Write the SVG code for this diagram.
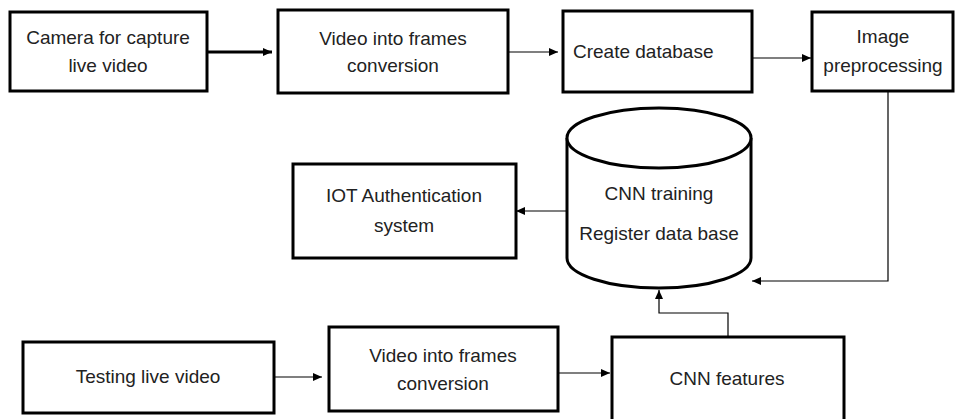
<svg xmlns="http://www.w3.org/2000/svg" width="956" height="419" viewBox="0 0 956 419">
<defs>
<style>
.box{fill:#fff;stroke:#000;stroke-width:3}
.t{font-family:"Liberation Sans",Arial,sans-serif;font-size:19px;fill:#222;text-anchor:middle}
.c{fill:none;stroke:#000;stroke-width:1.2}
</style>
<marker id="ah" markerWidth="10" markerHeight="8" refX="9" refY="4" orient="auto" markerUnits="userSpaceOnUse">
<path d="M0,0 L9,4 L0,8 z" fill="#000"/>
</marker>
</defs>
<rect width="956" height="419" fill="#fff"/>
<g id="camera"><rect class="box" x="10" y="12" width="197" height="79"/><text class="t" x="108" y="44">Camera for capture</text><text class="t" x="108" y="72">live video</text></g>
<g id="frames1"><rect class="box" x="278" y="10" width="230" height="83"/><text class="t" x="393" y="45">Video into frames</text><text class="t" x="393" y="72">conversion</text></g>
<g id="createdb"><rect class="box" x="563" y="11" width="189" height="81"/><text class="t" x="573" y="58" style="text-anchor:start">Create database</text></g>
<g id="preproc"><rect class="box" x="812" y="12" width="141" height="79"/><text class="t" x="883" y="43">Image</text><text class="t" x="883" y="72">preprocessing</text></g>
<g id="cnntrain"><path class="box" d="M567,138 L567,258 A92,30 0 0 0 751,258 L751,138"/><ellipse class="box" cx="659" cy="138" rx="92" ry="30"/><text class="t" x="659" y="200">CNN training</text><text class="t" x="659" y="240">Register data base</text></g>
<g id="iot"><rect class="box" x="293" y="164" width="223" height="94"/><text class="t" x="404" y="202">IOT Authentication</text><text class="t" x="404" y="232">system</text></g>
<g id="testing"><rect class="box" x="23" y="342" width="251" height="71"/><text class="t" x="148" y="383">Testing live video</text></g>
<g id="frames2"><rect class="box" x="329" y="327" width="229" height="84"/><text class="t" x="443" y="362">Video into frames</text><text class="t" x="443" y="390">conversion</text></g>
<g id="cnnfeat"><rect class="box" x="612" y="337" width="232" height="90"/><text class="t" x="727" y="385">CNN features</text></g>
<g id="connectors">
<path class="c" d="M207,52 L272,52" style="stroke-width:3" marker-end="url(#ah)"/>
<path class="c" d="M508,52 L558,52" marker-end="url(#ah)"/>
<path class="c" d="M752,58 L811,58" marker-end="url(#ah)"/>
<path class="c" d="M888,91 L888,281 L752,281" marker-end="url(#ah)"/>
<path class="c" d="M566,211 L516,211" marker-end="url(#ah)"/>
<path class="c" d="M274,377 L322,377" marker-end="url(#ah)"/>
<path class="c" d="M558,373 L610,373" marker-end="url(#ah)"/>
<path class="c" d="M728,337 L728,313 L659,313 L659,290" marker-end="url(#ah)"/>
</g>
</svg>
